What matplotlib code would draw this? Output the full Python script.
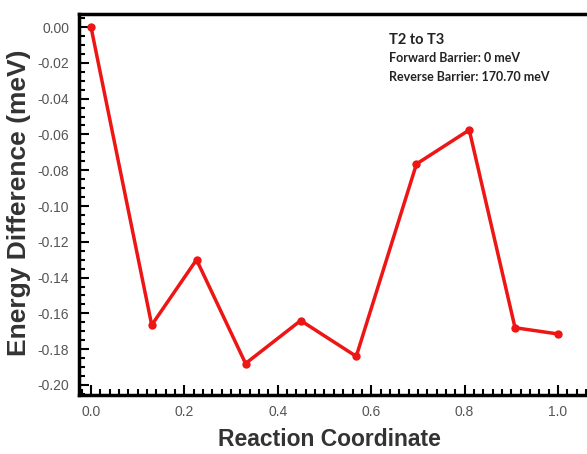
import numpy as np
import matplotlib
matplotlib.use("Agg")
import matplotlib.pyplot as plt
from matplotlib.ticker import MultipleLocator, FormatStrFormatter

# reaction path T2 -> T3
coord = [0.0, 0.130, 0.226, 0.331, 0.449, 0.568, 0.697, 0.810, 0.908, 1.0]
energy = [0.0, -0.1665, -0.1300, -0.1880, -0.1640, -0.1840, -0.0765, -0.0575, -0.1680, -0.1715]

title_txt = "T2 to T3"
fwd_txt = "Forward Barrier: 0 meV"
rev_txt = "Reverse Barrier: 170.70 meV"

plt.rcParams['font.family'] = ['Liberation Sans', 'DejaVu Sans']

fig = plt.figure(figsize=(5.87, 4.54), dpi=100)
ax = fig.add_axes([79 / 587, 59 / 454, 512 / 587, 381 / 454])

ax.plot(coord, energy, color='#ee1515', lw=2.5, marker='o', ms=5, zorder=3)

ax.set_xlim(-0.0257, 1.0707)
ax.set_ylim(-0.2056, 0.0073)

ax.xaxis.set_major_locator(MultipleLocator(0.2))
ax.xaxis.set_minor_locator(MultipleLocator(0.02))
ax.yaxis.set_major_locator(MultipleLocator(0.02))
ax.yaxis.set_minor_locator(MultipleLocator(0.005))
ax.xaxis.set_major_formatter(FormatStrFormatter('%.1f'))
ax.yaxis.set_major_formatter(FormatStrFormatter('%.2f'))

ax.tick_params(which='both', direction='in', top=False, right=False,
               width=1.5, colors='black', labelcolor='#555555', labelsize=10)
ax.tick_params(which='major', length=7)
ax.tick_params(which='minor', length=4)
ax.tick_params(axis='x', pad=7)
ax.tick_params(axis='y', pad=7)

for s in ax.spines.values():
    s.set_linewidth(2.5)

ax.set_xlabel('Reaction Coordinate', fontsize=16.5, fontweight='bold', color='#333333')
ax.set_ylabel('Energy Difference (meV)', fontsize=19, fontweight='bold', color='#333333')
ax.xaxis.set_label_coords((329 - 79) / 512, (395 - 428) / 381)
ax.yaxis.set_label_coords((31 - 79) / 512, (395 - 203) / 381)

fam = ['Lato', 'DejaVu Sans']
ax.text(0.605, 0.932, title_txt, transform=ax.transAxes, fontsize=10.5,
        family=fam, fontweight='bold', color='#222222', va='center')
ax.text(0.605, 0.885, fwd_txt, transform=ax.transAxes, fontsize=9,
        family=fam, fontweight='bold', color='#222222', va='center')
ax.text(0.605, 0.835, rev_txt, transform=ax.transAxes, fontsize=9,
        family=fam, fontweight='bold', color='#222222', va='center')

fig.savefig('out.png', dpi=100)
